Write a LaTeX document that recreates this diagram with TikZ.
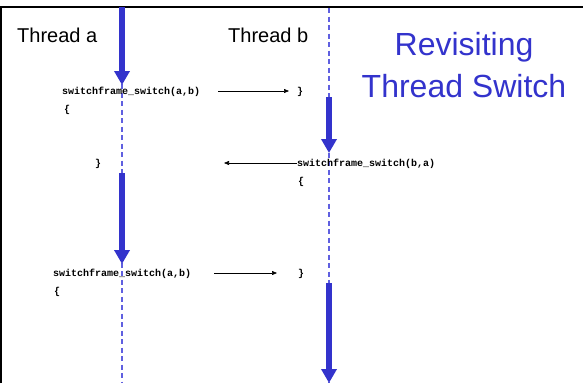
\documentclass[tikz,border=0pt]{standalone}
\usepackage{fontspec}
\setmainfont{Liberation Sans}
\newfontfamily\codefont{Liberation Mono}
\usetikzlibrary{arrows.meta}
\definecolor{tblue}{HTML}{3333CC}
\definecolor{dblue}{HTML}{6060E0}
\begin{document}
\begin{tikzpicture}[x=1pt,y=-1pt,
  frame/.style={line width=2pt,black},
  lifeline/.style={dblue,line width=1.3pt,dash pattern=on 5pt off 3.5pt},
  runarrow/.style={tblue,line width=5.5pt,-{Triangle[width=15pt,length=14pt]}},
  msgarrow/.style={black,line width=0.6pt,-{Triangle[width=4pt,length=5pt]}},
  code/.style={font=\codefont\bfseries\fontsize{10}{12}\selectfont,anchor=base west,inner sep=0pt},
  thread/.style={font=\fontsize{20}{24}\selectfont,anchor=base west,inner sep=0pt},
  title/.style={font=\fontsize{32}{38}\selectfont,text=tblue,anchor=base,inner sep=0pt}]
\useasboundingbox (0,0) rectangle (583,383);
% frame
\coordinate (fbl) at (1,383);
\coordinate (ftl) at (1,7);
\coordinate (ftr) at (583,7);
\draw[frame] (fbl) -- (ftl) -- (ftr);
% headings
\node[thread] (ta) at (17,42) {Thread a};
\node[thread] (tb) at (228,42) {Thread b};
\node[title] (t1) at (464,55) {Revisiting};
\node[title] (t2) at (464,97.5) {Thread Switch};
% lifelines
\coordinate (la0) at (122,84);
\coordinate (la1) at (122,383);
\coordinate (lb0) at (329,8);
\coordinate (lb1) at (329,383);
\draw[lifeline] (la0) -- (la1);
\draw[lifeline] (lb0) -- (lb1);
% running arrows
\coordinate (a1s) at (122,7);
\coordinate (a1e) at (122,85);
\coordinate (b1s) at (329,97);
\coordinate (b1e) at (329,153);
\coordinate (a2s) at (122,173);
\coordinate (a2e) at (122,264);
\coordinate (b2s) at (329,283);
\coordinate (b2e) at (329,383);
\draw[runarrow] (a1s) -- (a1e);
\draw[runarrow] (b1s) -- (b1e);
\draw[runarrow] (a2s) -- (a2e);
\draw[runarrow] (b2s) -- (b2e);
% code texts
\node[code] (c1) at (62,94) {switchframe\_switch(a,b)};
\node[code] (o1) at (64,112) {\{};
\node[code] (e1) at (297,94) {\}};
\node[code] (c2) at (297,166) {switchframe\_switch(b,a)};
\node[code] (e2) at (95,166) {\}};
\node[code] (o2) at (298,184) {\{};
\node[code] (c3) at (53,276) {switchframe\_switch(a,b)};
\node[code] (o3) at (54,294) {\{};
\node[code] (e3) at (298,276) {\}};
% messages
\coordinate (m1s) at (218,91);
\coordinate (m1e) at (289,91);
\coordinate (m2e) at (224,163);
\coordinate (m3s) at (214,273);
\coordinate (m3e) at (277,273);
\draw[msgarrow] (m1s) -- (m1e);
\draw[msgarrow] (c2.west |- m2e) -- (m2e);
\draw[msgarrow] (m3s) -- (m3e);
\end{tikzpicture}
\end{document}
